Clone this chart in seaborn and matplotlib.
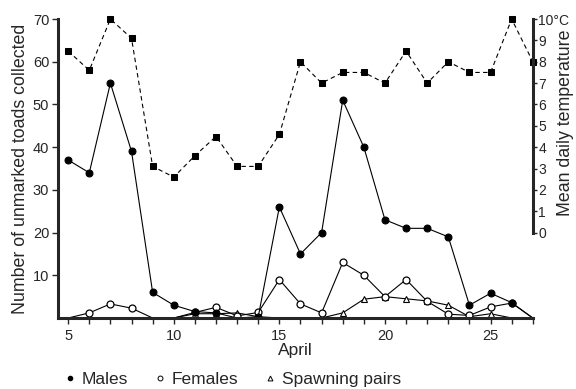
import numpy as np
import pandas as pd
import matplotlib
matplotlib.use("Agg")
import matplotlib.pyplot as plt
from matplotlib.lines import Line2D
import seaborn as sns

days = list(range(5, 28))
males = [37, 34, 55, 39, 6, 3, 1.5, 1.2, 0, 0.3, 26, 15, 20, 51, 40, 23, 21, 21, 19, 3, 5.8, 3.6, 0]
females = [0, 1.2, 3.3, 2.3, 0, 0, 1.3, 2.5, 0.5, 1.3, 9, 3.3, 1.2, 13, 10, 5, 9, 3.9, 0.9, 0.6, 2.6, 3.5, 0]
pairs = [0, 0, 0, 0, 0, 0, 1, 1, 1.2, 0.3, 0, 0, 0, 1.2, 4.4, 5, 4.5, 4, 3, 0.3, 1, 0, 0]
temps = [8.5, 7.6, 10, 9.1, 3.1, 2.6, 3.6, 4.5, 3.1, 3.1, 4.6, 8.0, 7.0, 7.5, 7.5, 7.0, 8.5, 7.0, 8.0, 7.5, 7.5, 10, 8.0]
x_ticklabels = ["5", "10", "15", "20", "25"]
temp_ticklabels = ["0", "1", "2", "3", "4", "5", "6", "7", "8", "9", "10°C"]

sns.set_style("ticks")
plt.rcParams['font.family'] = ['Liberation Sans', 'DejaVu Sans']

fig = plt.figure(figsize=(5.76, 3.89), dpi=100)
ax = fig.add_axes([0.1, 0.1825, 0.825, 0.7685])

df = pd.DataFrame({"day": days, "males": males, "females": females, "pairs": pairs, "temp": temps})

def nz(vals):
    return [i for i, v in enumerate(vals) if v > 0]

lw = 0.8
sns.lineplot(data=df, x="day", y="pairs", ax=ax, color="black", lw=lw, marker="^",
             markersize=5, markerfacecolor="white", markeredgecolor="black", markeredgewidth=0.8,
             markevery=nz(pairs))
sns.lineplot(data=df, x="day", y="females", ax=ax, color="black", lw=lw, marker="o",
             markersize=5, markerfacecolor="white", markeredgecolor="black", markeredgewidth=0.9,
             markevery=nz(females))
sns.lineplot(data=df, x="day", y="males", ax=ax, color="black", lw=lw, marker="o",
             markersize=5, markerfacecolor="black", markeredgecolor="black",
             markevery=nz(males))

ax.set_xlim(4.5, 27)
ax.set_ylim(0, 70)
ax.set_xticks(days)
ax.set_xticklabels([str(d) if str(d) in x_ticklabels else "" for d in days])
ax.set_yticks([10, 20, 30, 40, 50, 60, 70])
ax.set_xlabel("April", fontsize=12.5, labelpad=0)
ax.set_ylabel("Number of unmarked toads collected", fontsize=12.8, labelpad=3)
ax.tick_params(axis="both", labelsize=10.5, width=1.0, length=4, direction="out", pad=2)
ax.tick_params(axis="x", pad=4)
for s in ["top", "right"]:
    ax.spines[s].set_visible(False)
ax.spines["left"].set_linewidth(2.2)
ax.spines["bottom"].set_linewidth(2.2)

ax2 = ax.twinx()
sns.lineplot(data=df, x="day", y="temp", ax=ax2, color="black", lw=0.8, linestyle=(0, (4, 3)),
             marker="s", markersize=5, markerfacecolor="black", markeredgecolor="black", clip_on=False)
ax2.set_ylim(-4, 10)
ax2.set_yticks(list(range(0, 11)))
ax2.set_yticklabels(temp_ticklabels)
ax2.set_ylabel("")
ax2.set_xlabel("")
ax2.tick_params(axis="y", labelsize=10, width=1.0, length=3, direction="out", pad=1)
for s in ["top", "left", "bottom"]:
    ax2.spines[s].set_visible(False)
ax2.spines["right"].set_linewidth(2.2)
ax2.spines["right"].set_bounds(0, 10)
ax2.set_xlim(4.5, 27)
fig.text(566 / 576, 1 - 123 / 389, "Mean daily temperature", rotation=90,
         ha="center", va="center", fontsize=12.8)

handles = [
    Line2D([], [], ls="none", marker="o", markersize=3, markerfacecolor="black", markeredgecolor="black"),
    Line2D([], [], ls="none", marker="o", markersize=3.5, markerfacecolor="white", markeredgecolor="black", markeredgewidth=0.7),
    Line2D([], [], ls="none", marker="^", markersize=3.5, markerfacecolor="white", markeredgecolor="black", markeredgewidth=0.7),
]
fig.legend(handles, ["Males", "Females", "Spawning pairs"], loc="lower left",
           bbox_to_anchor=(0.085, -0.035), ncol=3, frameon=False, fontsize=12.5,
           handlelength=0.6, handletextpad=0.4, columnspacing=1.5)

fig.savefig("out.png", dpi=100)
